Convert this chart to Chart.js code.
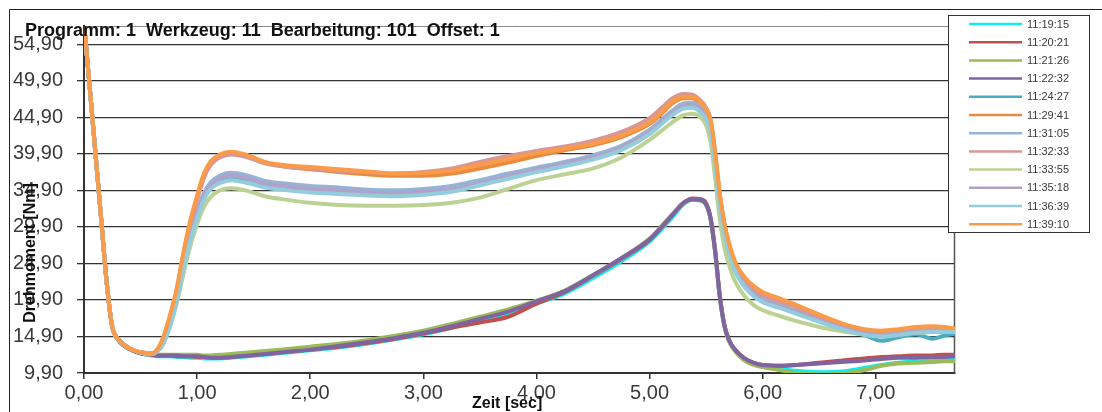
<!DOCTYPE html>
<html><head><meta charset="utf-8">
<script src="https://cdn.jsdelivr.net/npm/chart.js@4.4.1/dist/chart.umd.min.js"></script>
<style>html,body{margin:0;padding:0;background:#fff;}canvas{display:block;}</style>
</head><body>
<canvas id="c" width="1102" height="412"></canvas>
<script>
const chartTitle = 'Programm: 1  Werkzeug: 11  Bearbeitung: 101  Offset: 1';
const xAxisTitle = 'Zeit [sec]';
const yAxisTitle = 'Drehmoment [Nm]';
const xTicks = [0, 1, 2, 3, 4, 5, 6, 7];
const yTicks = [9.9, 14.9, 19.9, 24.9, 29.9, 34.9, 39.9, 44.9, 49.9, 54.9];
const seriesNames = ['11:19:15','11:20:21','11:21:26','11:22:32','11:24:27','11:29:41','11:31:05','11:32:33','11:33:55','11:35:18','11:36:39','11:39:10'];
const seriesColors = ['#10ecf0','#c0504d','#9bbb59','#8064a2','#4bacc6','#ea8a3e','#95b3d7','#d99694','#bcd295','#b3a2c7','#93cddd','#f99b48'];

const time = [0,0.05,0.1,0.15,0.2,0.25,0.3,0.4,0.5,0.6,
  0.65,0.7,0.76,0.82,0.88,0.94,1.0,1.06,1.12,1.2,
  1.3,1.45,1.6,1.8,2.0,2.25,2.5,2.75,3.0,3.25,
  3.5,3.75,4.0,4.25,4.5,4.75,5.0,5.1,5.2,5.3,
  5.38,5.45,5.5,5.54,5.58,5.62,5.66,5.7,5.76,5.84,
  5.92,6.0,6.15,6.3,6.5,6.7,6.9,7.05,7.2,7.35,
  7.5,7.6,7.7];

const s1 = [57.8,49.1,40.2,31.3,22.4,16.2,14.5,13.2,12.6,12.3,
  12.2,12.2,12.2,12.1,12.1,12.0,12.0,11.9,11.9,11.9,
  12.0,12.2,12.4,12.7,13.0,13.4,13.9,14.5,15.2,16.1,
  17.1,18.1,19.4,20.8,22.9,25.2,27.9,29.5,31.2,33.0,
  33.6,33.5,32.9,30.9,26.4,20.4,16.4,14.4,12.9,11.7,
  11.1,10.8,10.5,10.2,10.0,10.1,10.6,11.0,11.3,11.5,
  11.6,11.7,11.7];
const s2 = [57.8,49.1,40.2,31.3,22.4,16.2,14.5,13.2,12.6,12.4,
  12.3,12.3,12.3,12.2,12.2,12.2,12.1,12.1,12.0,12.0,
  12.1,12.3,12.5,12.8,13.1,13.5,14.0,14.6,15.3,16.1,
  16.8,17.6,19.4,21.0,23.2,25.5,28.1,29.7,31.5,33.2,
  33.8,33.7,33.1,31.1,26.7,20.6,16.6,14.5,13.0,11.9,
  11.3,11.0,10.9,11.0,11.3,11.6,11.9,12.1,12.2,12.3,
  12.3,12.4,12.4];
const s3 = [57.8,49.1,40.2,31.3,22.4,16.2,14.5,13.2,12.6,12.4,
  12.4,12.4,12.4,12.4,12.4,12.4,12.4,12.3,12.3,12.4,
  12.5,12.7,12.9,13.2,13.5,13.9,14.4,15.0,15.7,16.6,
  17.6,18.6,19.8,21.2,23.3,25.6,28.3,29.9,31.6,33.2,
  33.6,33.5,32.9,30.9,26.4,20.4,16.4,14.3,12.8,11.6,
  11.0,10.7,10.3,9.9,9.7,9.8,10.3,10.9,11.2,11.3,
  11.4,11.5,11.5];
const s4 = [57.8,49.1,40.2,31.3,22.4,16.2,14.5,13.2,12.6,12.4,
  12.3,12.3,12.3,12.3,12.2,12.2,12.2,12.1,12.0,12.0,
  12.1,12.3,12.5,12.8,13.1,13.6,14.1,14.7,15.4,16.3,
  17.3,18.3,19.7,21.1,23.3,25.6,28.2,29.8,31.5,33.2,
  33.7,33.6,33.0,31.0,26.5,20.5,16.5,14.5,13.0,11.9,
  11.3,11.0,10.9,11.0,11.2,11.4,11.6,11.8,12.0,12.0,
  12.1,12.1,12.2];
const s5 = [57.8,49.1,40.2,31.3,22.4,16.2,14.6,13.3,12.7,12.5,
  12.9,14.0,16.5,19.9,24.4,28.3,31.4,33.9,35.4,36.2,
  36.6,36.2,35.5,35.1,34.8,34.6,34.3,34.3,34.5,34.9,
  35.7,36.7,37.6,38.4,39.4,40.6,42.8,44.1,45.5,46.4,
  46.5,45.9,44.9,43.1,38.6,33.1,29.1,26.6,23.8,21.8,
  20.5,19.7,18.9,18.1,17.0,16.0,15.1,14.3,14.8,15.2,
  14.6,15.0,15.3];
const s6 = [57.8,49.1,40.2,31.3,22.4,16.2,14.6,13.3,12.75,12.6,
  13.1,14.6,17.6,21.3,26.2,30.5,33.9,36.9,38.7,39.6,
  40.0,39.6,38.7,38.1,37.8,37.4,37.1,36.9,36.9,37.2,
  37.9,38.7,39.6,40.4,41.1,42.2,44.0,45.3,46.8,47.5,
  47.5,46.8,45.8,44.3,39.8,34.3,30.4,27.7,24.9,22.9,
  21.7,20.9,20.0,19.1,17.8,16.6,15.8,15.6,15.8,16.1,
  16.2,16.1,15.9];
const s7 = [57.8,49.1,40.2,31.3,22.4,16.2,14.6,13.3,12.7,12.5,
  13.0,14.2,16.8,20.3,24.8,28.8,32.0,34.5,36.0,36.9,
  37.3,36.9,36.2,35.8,35.5,35.3,35.0,34.9,35.1,35.5,
  36.3,37.2,38.0,38.8,39.7,41.0,43.2,44.5,45.8,46.8,
  46.9,46.3,45.3,43.5,39.0,33.5,29.5,27.0,24.2,22.2,
  20.9,20.1,19.2,18.4,17.3,16.3,15.5,15.2,15.4,15.7,
  15.8,15.8,15.7];
const s8 = [57.8,49.1,40.2,31.3,22.4,16.2,14.6,13.3,12.75,12.6,
  13.1,14.6,17.5,21.1,26.0,30.2,33.6,36.6,38.4,39.4,
  39.8,39.4,38.6,38.1,37.9,37.6,37.4,37.2,37.4,37.9,
  38.8,39.6,40.3,40.9,41.7,42.9,44.8,46.1,47.5,48.1,
  48.0,47.2,46.2,44.6,40.0,34.4,30.3,27.5,24.6,22.6,
  21.4,20.6,19.7,18.9,17.6,16.5,15.7,15.5,15.7,16.0,
  16.1,16.0,15.8];
const s9 = [57.8,49.1,40.2,31.3,22.4,16.2,14.6,13.3,12.7,12.5,
  12.9,13.9,16.2,19.4,23.5,27.3,30.3,32.6,34.0,34.9,
  35.2,34.8,34.1,33.6,33.2,32.9,32.8,32.8,32.9,33.2,
  33.9,35.1,36.3,37.1,37.9,39.4,41.8,43.0,44.2,45.2,
  45.4,44.9,43.8,41.5,36.5,31.0,27.2,24.8,22.3,20.4,
  19.2,18.5,17.7,17.0,16.2,15.6,15.2,15.0,15.2,15.4,
  15.5,15.6,15.6];
const s10 = [57.8,49.1,40.2,31.3,22.4,16.2,14.6,13.3,12.7,12.5,
  12.9,14.0,16.6,20.0,24.5,28.4,31.6,34.1,35.6,36.5,
  36.9,36.5,35.8,35.4,35.1,34.9,34.6,34.5,34.7,35.0,
  35.8,36.8,37.7,38.5,39.4,40.7,42.9,44.2,45.5,46.5,
  46.6,46.0,45.0,43.2,38.7,33.2,29.3,26.8,24.0,22.0,
  20.7,19.9,19.0,18.2,17.1,16.1,15.4,15.1,15.3,15.6,
  15.7,15.7,15.6];
const s11 = [57.8,49.1,40.2,31.3,22.4,16.2,14.6,13.3,12.7,12.5,
  12.9,13.9,16.4,19.8,24.2,28.0,31.1,33.6,35.1,35.9,
  36.3,35.9,35.3,34.9,34.6,34.4,34.2,34.1,34.3,34.7,
  35.6,36.5,37.4,38.2,39.1,40.4,42.6,43.9,45.2,46.1,
  46.2,45.6,44.6,42.8,38.3,32.9,29.0,26.5,23.7,21.7,
  20.4,19.6,18.8,18.0,16.9,15.9,15.1,14.9,15.1,15.4,
  15.5,15.5,15.5];
const s12 = [57.8,49.1,40.2,31.3,22.4,16.2,14.6,13.3,12.75,12.6,
  13.2,14.8,17.8,21.5,26.5,30.8,34.2,37.2,38.9,39.8,
  40.2,39.7,38.8,38.3,38.1,37.8,37.5,37.2,37.3,37.6,
  38.4,39.2,40.0,40.6,41.3,42.4,44.2,45.5,47.0,47.7,
  47.7,47.0,46.0,44.5,40.0,34.5,30.5,27.8,25.0,23.0,
  21.8,21.0,20.1,19.2,17.9,16.7,15.9,15.7,15.9,16.2,
  16.3,16.2,16.0];

const seriesValues = [s1,s2,s3,s4,s5,s6,s7,s8,s9,s10,s11,s12];
const FONT = '"Liberation Sans", Arial, sans-serif';
const fmt = v => Number(v).toFixed(2).replace('.', ',');

const datasets = seriesValues.map((vals, i) => ({
  label: seriesNames[i],
  data: time.map((t, k) => ({x: t, y: vals[k]})),
  borderColor: seriesColors[i],
  backgroundColor: seriesColors[i],
  borderWidth: 4,
  pointRadius: 0,
  fill: false,
  cubicInterpolationMode: 'monotone',
  borderJoinStyle: 'round',
  borderCapStyle: 'round',
  order: 11 - i
}));

const decor = {
  id: 'decor',
  beforeDatasetsDraw(chart) {
    const {ctx, chartArea: a} = chart;
    ctx.save();
    ctx.strokeStyle = '#8a8a8a';
    ctx.lineWidth = 1;
    ctx.beginPath();
    ctx.moveTo(a.left, a.top + 0.5); ctx.lineTo(a.right, a.top + 0.5);
    ctx.stroke();
    ctx.strokeStyle = '#555';
    ctx.lineWidth = 1.5;
    ctx.beginPath();
    ctx.moveTo(a.right - 0.5, a.top); ctx.lineTo(a.right - 0.5, a.bottom);
    ctx.stroke();
    ctx.restore();
  },
  afterDraw(chart) {
    const ctx = chart.ctx;
    ctx.save();
    // outer frame
    ctx.strokeStyle = '#222';
    ctx.lineWidth = 1;
    ctx.beginPath();
    ctx.moveTo(9.5, 412); ctx.lineTo(9.5, 9.5); ctx.lineTo(1102, 9.5);
    ctx.stroke();
    // title
    ctx.fillStyle = '#111';
    ctx.font = 'bold 18px ' + FONT;
    ctx.textAlign = 'left';
    ctx.textBaseline = 'alphabetic';
    ctx.fillText(chartTitle, 25, 36);
    // x axis title
    ctx.font = 'bold 16px ' + FONT;
    ctx.fillText(xAxisTitle, 472, 408);
    // y axis title
    ctx.save();
    ctx.translate(31, 253);
    ctx.rotate(-Math.PI / 2);
    ctx.textAlign = 'center';
    ctx.textBaseline = 'middle';
    ctx.font = 'bold 16px ' + FONT;
    ctx.fillText(yAxisTitle, 0, 0);
    ctx.restore();
    // legend
    const lx = 948, ly = 15, lw = 141, lh = 217;
    ctx.fillStyle = '#fff';
    ctx.fillRect(lx, ly, lw, lh);
    ctx.strokeStyle = '#333';
    ctx.lineWidth = 1;
    ctx.strokeRect(lx + 0.5, ly + 0.5, lw, lh);
    ctx.font = '11px ' + FONT;
    ctx.textBaseline = 'middle';
    ctx.textAlign = 'left';
    seriesNames.forEach((n, i) => {
      const y = 24 + i * 18.2;
      ctx.strokeStyle = seriesColors[i];
      ctx.lineWidth = 2.5;
      ctx.beginPath();
      ctx.moveTo(969, y); ctx.lineTo(1022, y);
      ctx.stroke();
      ctx.fillStyle = '#3a3a3a';
      ctx.fillText(n, 1027, y + 0.5);
    });
    ctx.restore();
  }
};

new Chart(document.getElementById('c'), {
  type: 'line',
  data: {datasets},
  options: {
    responsive: false,
    animation: false,
    layout: {padding: {left: 0, top: 19, right: 147, bottom: 0}},
    plugins: {legend: {display: false}, title: {display: false}, tooltip: {enabled: false}},
    scales: {
      x: {
        type: 'linear', min: 0, max: 7.7,
        afterBuildTicks: s => { s.ticks = xTicks.map(v => ({value: v})); },
        afterFit: s => { s.height = 39; },
        grid: {drawOnChartArea: false, drawTicks: true, tickLength: 6, color: '#333', lineWidth: 1.5},
        border: {display: true, color: '#333', width: 2},
        ticks: {callback: fmt, color: '#3a3a3a', font: {size: 20, family: FONT}, padding: 2, maxRotation: 0, autoSkip: false}
      },
      y: {
        type: 'linear', min: 9.9, max: 57.4,
        afterBuildTicks: s => { s.ticks = yTicks.map(v => ({value: v})); },
        afterFit: s => { s.width = 84; },
        grid: {drawOnChartArea: true, drawTicks: true, tickLength: 7, color: '#333', lineWidth: 1.3},
        border: {display: true, color: '#333', width: 2},
        ticks: {callback: fmt, color: '#3a3a3a', font: {size: 20, family: FONT}, padding: 14, autoSkip: false}
      }
    }
  },
  plugins: [decor]
});
</script>
</body></html>
